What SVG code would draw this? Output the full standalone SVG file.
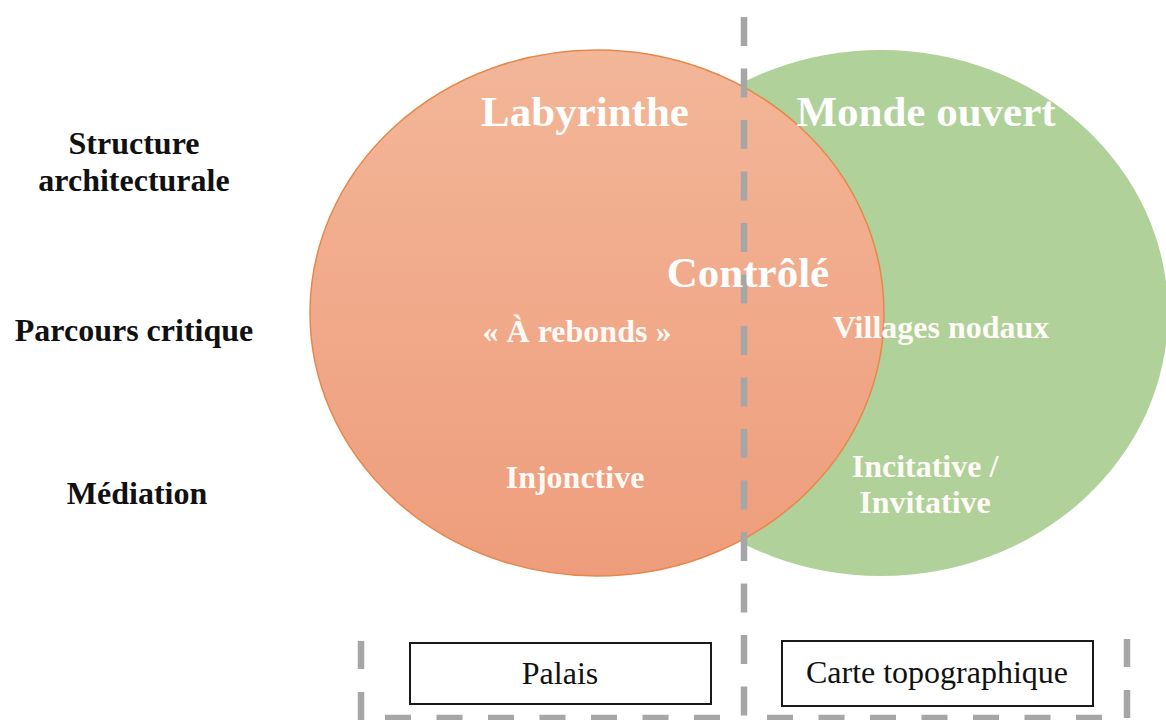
<svg xmlns="http://www.w3.org/2000/svg" width="1166" height="720" viewBox="0 0 1166 720">
  <defs>
    <linearGradient id="orangeGrad" x1="0" y1="0" x2="0" y2="1">
      <stop offset="0" stop-color="#f3b698"/>
      <stop offset="1" stop-color="#ee9d7c"/>
    </linearGradient>
    <style>
      .row { font-family: "Liberation Serif", "Times New Roman", serif; font-weight: bold; font-size: 32px; fill: #111111; text-anchor: middle; }
      .big { font-family: "Liberation Serif", "Times New Roman", serif; font-weight: bold; font-size: 43px; fill: #ffffff; text-anchor: middle; }
      .small { font-family: "Liberation Serif", "Times New Roman", serif; font-weight: bold; font-size: 32px; fill: #fffaf6; text-anchor: middle; }
      .boxtext { font-family: "Liberation Serif", "Times New Roman", serif; font-size: 32px; fill: #111111; text-anchor: middle; }
      .box { fill: #ffffff; stroke: #1a1a1a; stroke-width: 2; }
      .dash { stroke: #a6a6a6; stroke-width: 6.5; fill: none; stroke-dasharray: 29 22.5; }
    </style>
  </defs>
  <rect width="1166" height="720" fill="#ffffff"/>

  <g id="node-monde-ouvert">
    <ellipse cx="881" cy="313" rx="287" ry="263" fill="#b0d19a"/>
  </g>
  <g id="node-labyrinthe">
    <ellipse cx="597" cy="313" rx="287" ry="263" fill="url(#orangeGrad)" stroke="#e5884a" stroke-width="1.5"/>
  </g>

  <g id="dividers">
    <line class="dash" x1="744" y1="17" x2="744" y2="720"/>
    <line class="dash" x1="361" y1="641" x2="361" y2="720" style="stroke-dasharray: 28 23"/>
    <line class="dash" x1="1127" y1="639" x2="1127" y2="720" style="stroke-dasharray: 28 23"/>
    <line class="dash" x1="385" y1="718" x2="745" y2="718" style="stroke-dasharray: 26 25.5"/>
    <line class="dash" x1="767" y1="718" x2="1127" y2="718" style="stroke-dasharray: 26 25.5"/>
  </g>

  <g id="row-labels">
    <text class="row" x="134" y="154">Structure</text>
    <text class="row" x="134" y="191">architecturale</text>
    <text class="row" x="134" y="341">Parcours critique</text>
    <text class="row" x="137" y="504">Médiation</text>
  </g>

  <g id="labels-labyrinthe">
    <text class="big" x="585" y="126">Labyrinthe</text>
    <text class="small" x="577" y="342">« À rebonds »</text>
    <text class="small" x="575" y="488">Injonctive</text>
  </g>
  <g id="labels-monde-ouvert">
    <text class="big" x="926" y="126">Monde ouvert</text>
    <text class="small" x="941" y="338">Villages nodaux</text>
    <text class="small" x="925" y="477">Incitative /</text>
    <text class="small" x="925" y="513">Invitative</text>
  </g>
  <g id="node-controle">
    <text class="big" x="748" y="287">Contrôlé</text>
  </g>

  <g id="node-palais">
    <rect class="box" x="410" y="643" width="301" height="61"/>
    <text class="boxtext" x="560" y="684">Palais</text>
  </g>
  <g id="node-carte">
    <rect class="box" x="782" y="641" width="311" height="65"/>
    <text class="boxtext" x="937" y="683">Carte topographique</text>
  </g>
</svg>
